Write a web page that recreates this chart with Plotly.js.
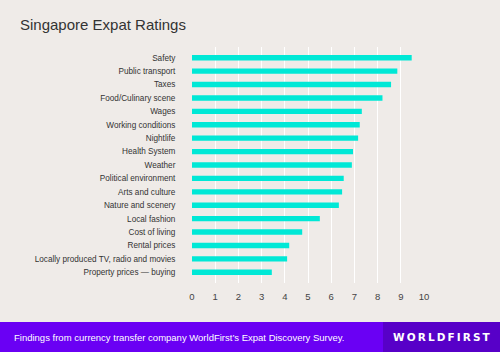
<!DOCTYPE html>
<html>
<head>
<meta charset="utf-8">
<script src="https://cdn.plot.ly/plotly-3.0.1.min.js"></script>
<style>
html,body{margin:0;padding:0;background:#efebe8;}
#chart{width:500px;height:352px;}
</style>
</head>
<body>
<div id="chart"></div>
<script>
const categories = [
  "Safety","Public transport","Taxes","Food/Culinary scene","Wages",
  "Working conditions","Nightlife","Health System","Weather",
  "Political environment","Arts and culture","Nature and scenery",
  "Local fashion","Cost of living","Rental prices",
  "Locally produced TV, radio and movies","Property prices — buying"
];
const ratings = [9.47,8.85,8.58,8.21,7.32,7.23,7.16,6.94,6.89,6.54,6.47,6.33,5.51,4.75,4.19,4.10,3.44];
const xTicks = [0,1,2,3,4,5,6,7,8,9,10];

const L = 192, R = 76, T = 47, B = 69, W = 500, H = 352;
const pw = W - L - R, ph = H - T - B;
const px = x => (x - L) / pw;
const py = y => (H - B - y) / ph;

const trace = {
  type: 'bar',
  orientation: 'h',
  x: ratings,
  y: categories,
  width: 0.4,
  marker: {color: '#00e8d6'},
  hoverinfo: 'x+y'
};

const layout = {
  width: W, height: H,
  paper_bgcolor: '#efebe8',
  plot_bgcolor: '#efebe8',
  margin: {l: L, r: R, t: T, b: B, pad: 0},
  showlegend: false,
  title: {
    text: 'Singapore Expat Ratings',
    x: 20 / W, xanchor: 'left', xref: 'container',
    y: 1 - 25 / H, yanchor: 'middle', yref: 'container',
    font: {family: 'Liberation Sans, Arial, sans-serif', size: 15, color: '#333333'}
  },
  xaxis: {
    range: [0, 10],
    tickvals: xTicks,
    ticktext: xTicks.map(String),
    showgrid: true, gridcolor: '#ffffff', gridwidth: 1,
    zeroline: false, showline: false,
    ticks: 'outside', ticklen: 5, tickcolor: 'rgba(0,0,0,0)',
    tickfont: {family: 'Liberation Sans, Arial, sans-serif', size: 9.5, color: '#444444'},
    fixedrange: true
  },
  yaxis: {
    type: 'category',
    categoryorder: 'array', categoryarray: categories,
    range: [16.8, -0.8],
    showgrid: false, zeroline: false, showline: false,
    ticks: 'outside', ticklen: 14, tickcolor: 'rgba(0,0,0,0)',
    tickfont: {family: 'Liberation Sans, Arial, sans-serif', size: 8.2, color: '#333333'},
    fixedrange: true
  },
  shapes: [
    {type: 'rect', xref: 'paper', yref: 'paper', x0: px(0), x1: px(500), y0: py(322), y1: py(352),
     fillcolor: '#6a00f4', line: {width: 0}, layer: 'above'},
    {type: 'rect', xref: 'paper', yref: 'paper', x0: px(383), x1: px(500), y0: py(322), y1: py(352),
     fillcolor: '#5700c8', line: {width: 0}, layer: 'above'}
  ],
  annotations: [
    {xref: 'paper', yref: 'paper', x: px(12), y: py(337), xanchor: 'left', yanchor: 'middle',
     text: 'Findings from currency transfer company WorldFirst’s Expat Discovery Survey.',
     showarrow: false, font: {family: 'Liberation Sans, Arial, sans-serif', size: 9.5, color: '#ffffff'}},
    {xref: 'paper', yref: 'paper', x: px(441.5), y: py(337), xanchor: 'center', yanchor: 'middle',
     text: '<b>W\u2009O\u2009R\u2009L\u2009D\u2009F\u2009I\u2009R\u2009S\u2009T</b>',
     showarrow: false, font: {family: 'DejaVu Sans, sans-serif', size: 10.5, color: '#ffffff'}}
  ]
};

Plotly.newPlot('chart', [trace], layout, {displayModeBar: false, staticPlot: true});
</script>
</body>
</html>
